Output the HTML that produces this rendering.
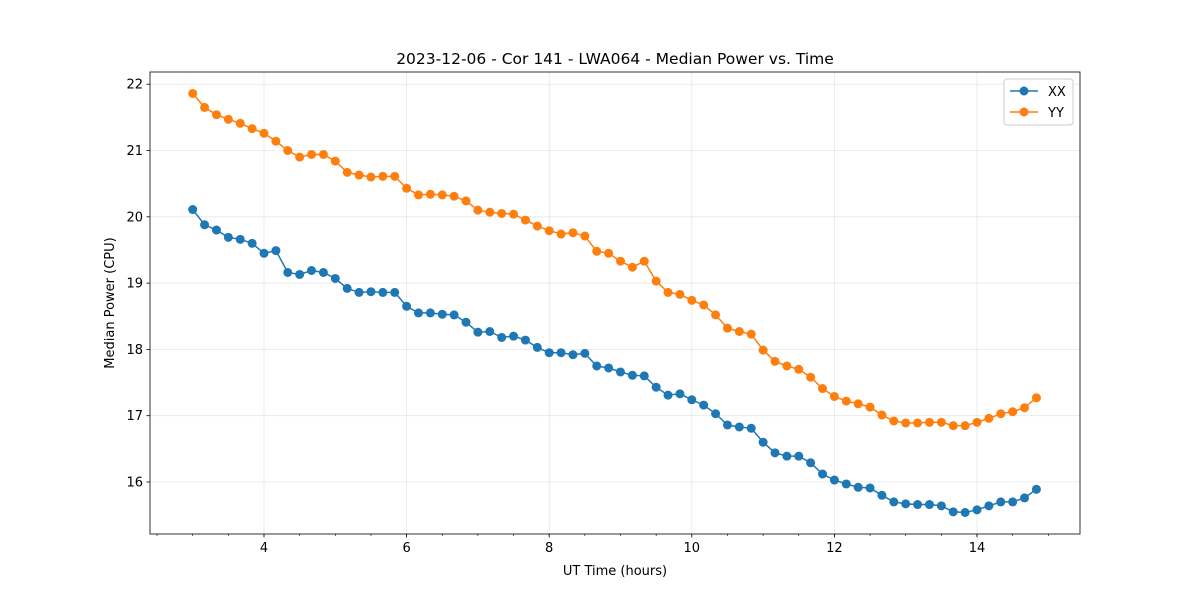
<!DOCTYPE html>
<html><head><meta charset="utf-8"><style>
html,body{margin:0;padding:0;background:#fff;}
svg{display:block;font-family:"DejaVu Sans","Liberation Sans",sans-serif;}
</style></head><body>
<svg id="chart" width="1200" height="600"></svg>
<script>
const xxValues=[20.11,19.88,19.80,19.69,19.66,19.60,19.45,19.49,19.16,19.13,19.19,19.16,19.07,18.92,18.86,18.87,18.86,18.86,18.65,18.55,18.55,18.53,18.52,18.41,18.26,18.27,18.18,18.20,18.14,18.03,17.95,17.95,17.92,17.94,17.75,17.72,17.66,17.61,17.60,17.43,17.31,17.33,17.24,17.16,17.03,16.86,16.83,16.81,16.60,16.44,16.39,16.39,16.29,16.12,16.03,15.97,15.92,15.91,15.80,15.70,15.67,15.66,15.66,15.64,15.55,15.54,15.58,15.64,15.70,15.70,15.76,15.89];
const yyValues=[21.86,21.65,21.54,21.47,21.41,21.33,21.26,21.14,21.00,20.90,20.94,20.94,20.84,20.67,20.63,20.60,20.61,20.61,20.43,20.33,20.34,20.33,20.31,20.24,20.10,20.07,20.05,20.04,19.95,19.86,19.79,19.74,19.76,19.71,19.48,19.45,19.33,19.24,19.33,19.03,18.86,18.83,18.74,18.67,18.52,18.32,18.27,18.23,17.99,17.82,17.75,17.70,17.58,17.41,17.29,17.22,17.18,17.13,17.01,16.92,16.89,16.89,16.90,16.90,16.85,16.85,16.90,16.96,17.03,17.06,17.12,17.27];
const startHour=3.0;
const stepHour=1/6;
const xTicks=[4,6,8,10,12,14];
const yTicks=[16,17,18,19,20,21,22];
const seriesNames=["XX","YY"];

const NS="http://www.w3.org/2000/svg";
const svg=document.getElementById('chart');
const L=150,R=1080,T=72,B=534;
function xs(h){return 264+(h-4)*71.3;}
function ys(v){return 482-(v-16)*66.3;}
function mk(tag,attrs,parent){const e=document.createElementNS(NS,tag);for(const k in attrs)e.setAttribute(k,attrs[k]);(parent||svg).appendChild(e);return e;}

const grid=mk('g',{});


xTicks.forEach(t=>mk('line',{x1:xs(t),x2:xs(t),y1:T,y2:B,stroke:'#b0b0b0','stroke-opacity':0.3,'stroke-width':0.8},grid));
yTicks.forEach(t=>mk('line',{x1:L,x2:R,y1:ys(t),y2:ys(t),stroke:'#b0b0b0','stroke-opacity':0.3,'stroke-width':0.8},grid));

const xaxis=mk('g',{});


for(let m=2.5;m<=15.01;m+=0.5){if(xs(m)>L&&xs(m)<R)mk('line',{x1:xs(m),x2:xs(m),y1:B,y2:B+2,stroke:'#000','stroke-width':0.6},xaxis);}
xTicks.forEach(t=>{mk('line',{x1:xs(t),x2:xs(t),y1:B,y2:B+3.5,stroke:'#000','stroke-width':0.8},xaxis);
const tx=mk('text',{x:xs(t),y:B+18,'text-anchor':'middle','font-size':13},xaxis);tx.textContent=t;});
const yaxis=mk('g',{});


yTicks.forEach(t=>{mk('line',{x1:L-3.5,x2:L,y1:ys(t),y2:ys(t),stroke:'#000','stroke-width':0.8},yaxis);
const tx=mk('text',{x:L-7,y:ys(t)+4.5,'text-anchor':'end','font-size':13},yaxis);tx.textContent=t;});

const colors=["#1f77b4","#ff7f0e"];
[xxValues,yyValues].forEach((vals,si)=>{
  const g=mk('g',{});
  
  
  const pts=vals.map((v,i)=>xs(startHour+i*stepHour).toFixed(1)+','+ys(v).toFixed(1)).join(' ');
  mk('polyline',{points:pts,fill:'none',stroke:colors[si],'stroke-width':1.5},g);
  vals.forEach((v,i)=>{const c=mk('circle',{cx:xs(startHour+i*stepHour),cy:ys(v),r:4.5,fill:colors[si]},g);
    
    });
});

mk('rect',{x:L,y:T,width:R-L,height:B-T,fill:'none',stroke:'#000','stroke-width':0.8});

const title=mk('text',{x:615,y:64,'text-anchor':'middle','font-size':15.5});
title.textContent='2023-12-06 - Cor 141 - LWA064 - Median Power vs. Time';


const xt=mk('text',{x:615,y:575,'text-anchor':'middle','font-size':13});
xt.textContent='UT Time (hours)';


const yt=mk('text',{x:114,y:303,'text-anchor':'middle','font-size':13,transform:'rotate(-90 114 303)'});
yt.textContent='Median Power (CPU)';



const lg=mk('g',{});


mk('rect',{x:1004,y:79,width:69,height:46,rx:3,fill:'#fff',stroke:'#ccc','stroke-width':1},lg);
seriesNames.forEach((n,i)=>{const y=91+i*21;
  const e=mk('g',{},lg);
  
  
  mk('line',{x1:1010,x2:1038,y1:y,y2:y,stroke:colors[i],'stroke-width':1.5},e);
  mk('circle',{cx:1024,cy:y,r:4.5,fill:colors[i]},e);
  const t=mk('text',{x:1048,y:y+5,'font-size':13},e);t.textContent=n;});
</script>
</body></html>
